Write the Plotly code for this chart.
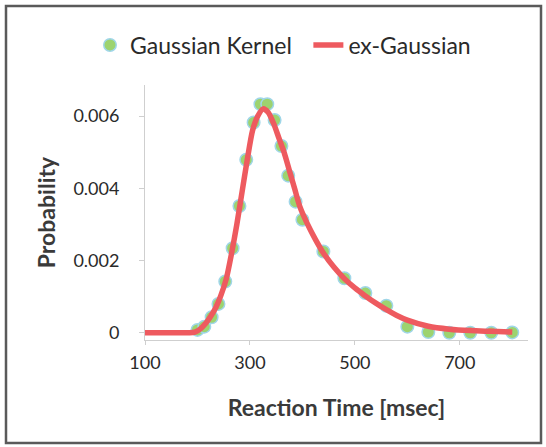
import plotly.graph_objects as go

# Gaussian kernel density estimate (points)
kernel_x = [200, 213, 227, 240, 253, 267, 280, 293, 307, 320, 333, 347, 360, 373, 387, 400,
            440, 480, 520, 560, 600, 640, 680, 720, 760, 800]
kernel_y = [0.00008, 0.00017, 0.00043, 0.0008, 0.00142, 0.00234, 0.00351, 0.00479, 0.00582,
            0.00633, 0.00633, 0.00589, 0.00517, 0.00435, 0.00363, 0.00313,
            0.00225, 0.00151, 0.0011, 0.00075, 0.00017, 0.00002, 0.0, 0.0, 0.0, 0.00001]

# ex-Gaussian fit (line)
exg_x = [100, 150, 185, 195, 205, 215, 225, 235, 245, 255, 265, 275, 285, 295, 305, 315, 325,
         335, 345, 355, 365, 375, 385, 395, 410, 425, 440, 460, 480, 500, 520, 540, 560, 580,
         600, 640, 680, 720, 760, 800]
exg_y = [0.0, 0.0, 0.0, 0.00002, 0.0001, 0.00025, 0.00045, 0.0007, 0.00105, 0.0015, 0.0022,
         0.003, 0.0039, 0.0048, 0.0056, 0.006, 0.0062, 0.0061, 0.0058, 0.0054, 0.005, 0.0045,
         0.004, 0.0035, 0.003, 0.00258, 0.00221, 0.00182, 0.0015, 0.00124, 0.00102, 0.00082,
         0.00064, 0.00048, 0.00035, 0.00018, 0.0001, 0.00006, 0.00004, 0.00002]

x_ticks = [100, 300, 500, 700]
y_ticks = [0, 0.002, 0.004, 0.006]
y_tick_text = ["0", "0.002", "0.004", "0.006"]

FONT = "Lato, 'Open Sans', sans-serif"

fig = go.Figure()
fig.add_trace(go.Scatter(
    x=kernel_x, y=kernel_y, mode="markers", name="Gaussian Kernel\u2002",
    marker=dict(size=12.5, color="#9DD36F", line=dict(color="#9FD6E8", width=1.5)),
))
fig.add_trace(go.Scatter(
    x=exg_x, y=exg_y, mode="lines", name="ex-Gaussian",
    line=dict(color="#EE5A5F", width=5.5, shape="spline", smoothing=0.7),
))

W, H = 546, 447
ml, mr, mt, mb = 145, 18, 85, 107
pw, ph = W - ml - mr, H - mt - mb

def px2paper_x(px):
    return (px - ml) / pw

def px2paper_y(py):
    return (H - mb - py) / ph

fig.update_layout(
    width=W, height=H,
    margin=dict(l=ml, r=mr, t=mt, b=mb, autoexpand=False),
    paper_bgcolor="white", plot_bgcolor="white",
    font=dict(family=FONT, color="#2a2a2a"),
    showlegend=True,
    legend=dict(orientation="h", xref="paper", yref="paper",
                x=px2paper_x(90), xanchor="left",
                y=px2paper_y(45), yanchor="middle",
                font=dict(size=23, family=FONT, color="#2a2a2a"),
                itemwidth=30, traceorder="normal", bgcolor="rgba(0,0,0,0)"),
    xaxis=dict(range=[100, 830], tickvals=x_ticks, showgrid=False, zeroline=False,
               automargin=False,
               showline=True, linecolor="#cfcfcf", linewidth=1,
               ticks="outside", ticklen=4, tickcolor="#cfcfcf",
               tickfont=dict(size=18, family=FONT, color="#2a2a2a"),
               ticklabelstandoff=2,
               title=dict(text="<b>Reaction Time [msec]</b>", standoff=28,
                          font=dict(size=23, family=FONT, color="#3a3a3a"))),
    yaxis=dict(range=[-0.0002, 0.00686], tickvals=y_ticks, ticktext=y_tick_text,
               showgrid=False, zeroline=False, automargin=False,
               showline=True, linecolor="#cfcfcf", linewidth=1,
               ticks="outside", ticklen=5, tickcolor="#cfcfcf",
               tickfont=dict(size=18, family=FONT, color="#2a2a2a"),
               ticklabelstandoff=16,
               title=dict(text="<b>Probability</b>", standoff=11,
                          font=dict(size=23, family=FONT, color="#3a3a3a"))),
    shapes=[dict(type="rect", xref="paper", yref="paper",
                 x0=px2paper_x(6), x1=px2paper_x(541),
                 y0=px2paper_y(443), y1=px2paper_y(6),
                 line=dict(color="#5a5a5a", width=2.5), fillcolor="rgba(0,0,0,0)",
                 layer="below")],
)

fig.write_html("out.html", config={"displayModeBar": False},
               post_script="document.body.style.margin='0';document.body.style.overflow='hidden';")
